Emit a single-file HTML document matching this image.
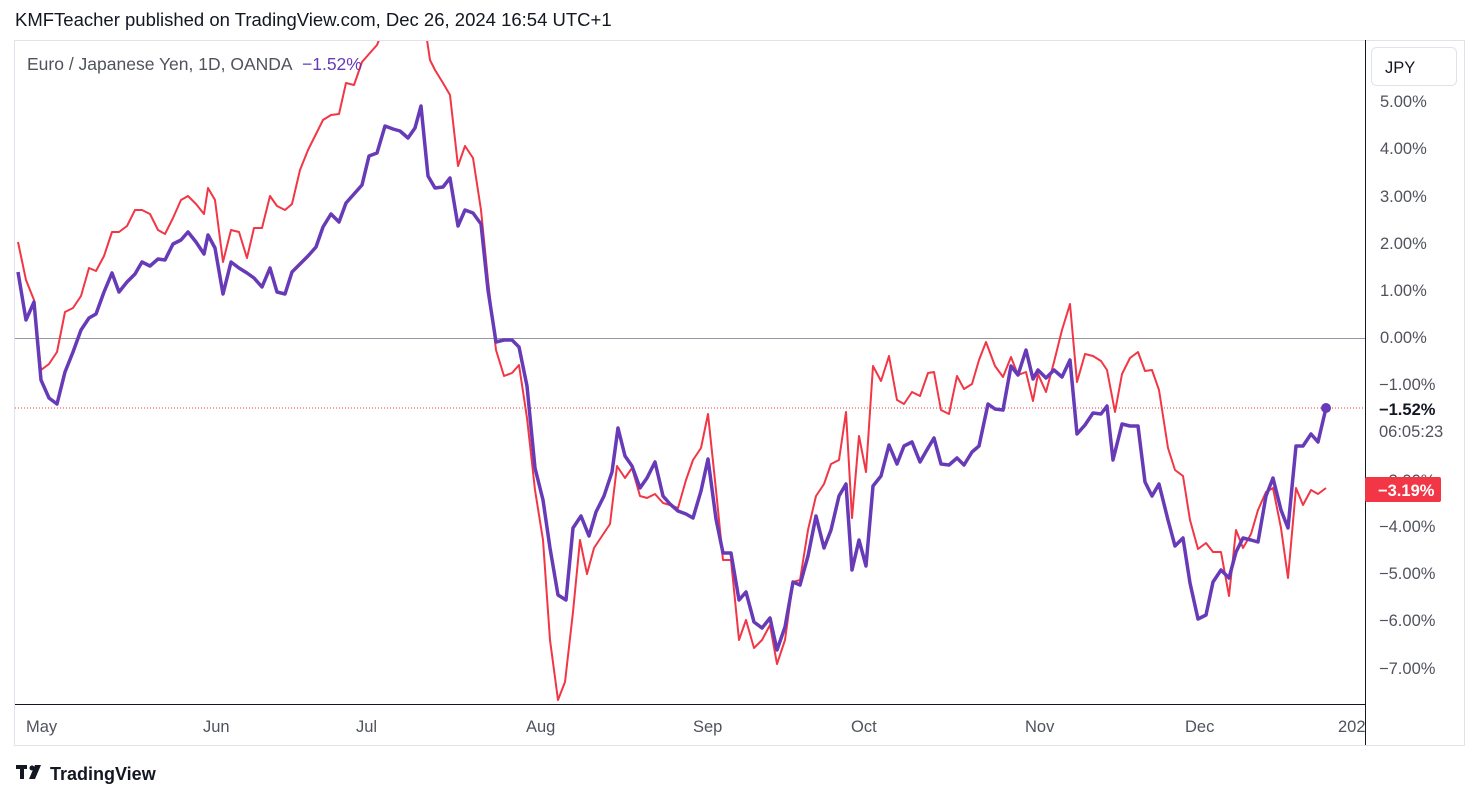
<!DOCTYPE html>
<html><head><meta charset="utf-8"><style>
body{margin:0;width:1479px;height:799px;background:#fff;font-family:"Liberation Sans",sans-serif;overflow:hidden;position:relative}
.t{position:absolute;white-space:nowrap}
</style></head><body>
<div class="t" style="left:15px;top:9px;font-size:18.5px;color:#131722">KMFTeacher published on TradingView.com, Dec 26, 2024 16:54 UTC+1</div>
<svg width="1479" height="799" style="position:absolute;left:0;top:0">
<defs><clipPath id="c"><rect x="15" y="41" width="1350" height="663"/></clipPath></defs>
<rect x="14.5" y="40.5" width="1450" height="705" fill="none" stroke="#e0e3eb"/>
<line x1="1365.5" y1="40" x2="1365.5" y2="745" stroke="#131722" stroke-width="1"/>
<line x1="15" y1="704.5" x2="1365" y2="704.5" stroke="#131722" stroke-width="1"/>
<line x1="15" y1="338.5" x2="1365" y2="338.5" stroke="#9598a1" stroke-width="1"/>
<line x1="15" y1="408" x2="1365" y2="408" stroke="#f23645" stroke-width="1" stroke-dasharray="1,2"/>
<g clip-path="url(#c)" fill="none" stroke-linejoin="round">
<polyline stroke="#f23645" stroke-width="2" points="18,242 26,280 34,300 41,370 49,364 57,352 65,312 73,308 81,296 89,268 96,271 104,256 112,232 119,232 127,226 135,210 142,210 150,214 158,230 165,234 173,218 181,200 188,196 196,204 204,214 208,188 215,200 223,262 231,230 239,232 247,258 254,228 262,228 270,196 277,206 285,210 292,204 300,170 308,150 316,134 323,120 331,115 339,114 346,83 354,85 362,62 369,54 377,45 385,25 420,20 427,40 430,60 435,70 443,83 450,95 458,166 465,146 473,158 481,210 488,280 496,350 504,376 512,373 519,365 527,418 535,490 543,540 550,640 558,700 565,682 573,612 580,540 587,574 594,548 602,536 610,524 617,466 625,478 632,468 640,496 647,498 655,494 663,503 670,505 678,508 686,480 693,460 701,448 708,414 716,490 723,560 731,560 739,640 746,620 754,648 762,640 770,625 777,664 785,640 793,582 800,580 808,530 816,496 824,484 831,464 839,460 846,412 852,518 859,436 866,472 873,366 881,381 889,356 897,400 904,404 912,392 920,396 928,373 934,372 941,410 949,414 957,376 964,389 972,384 979,360 986,342 995,366 1003,377 1011,357 1018,375 1026,372 1033,401 1038,374 1046,392 1054,362 1062,330 1070,304 1077,382 1085,354 1093,356 1101,361 1107,370 1115,412 1122,374 1130,358 1138,352 1145,371 1152,370 1159,390 1168,448 1175,470 1183,476 1190,520 1198,549 1206,543 1213,552 1221,552 1229,596 1236,530 1243,548 1251,534 1258,510 1266,492 1273,488 1281,528 1288,578 1296,488 1303,505 1311,490 1318,494 1326,488"/>
<polyline stroke="#673ab7" stroke-width="3.5" points="18,272 26,320 34,302 41,380 49,398 57,404 65,372 73,352 81,330 89,318 96,314 104,292 112,273 119,292 127,282 135,274 142,262 150,266 158,259 165,260 173,244 181,240 188,232 196,242 204,254 208,235 215,248 223,294 231,262 239,268 247,273 254,278 262,287 270,268 277,292 285,294 292,272 300,264 308,256 316,247 323,227 331,214 339,222 346,203 354,194 362,185 369,156 377,153 385,126 393,129 400,131 408,138 415,128 421,106 428,176 435,188 443,187 450,178 458,226 465,210 473,213 481,224 488,290 496,342 504,340 512,340 519,347 527,386 535,468 543,500 550,548 558,595 566,600 573,528 581,516 589,536 596,512 604,496 612,472 618,428 625,456 632,466 640,488 647,478 655,462 663,496 670,504 678,511 686,514 693,518 701,491 708,459 716,519 723,553 731,553 739,600 746,592 754,622 762,628 770,618 777,650 785,627 793,582 800,585 808,556 816,516 824,548 831,530 839,496 846,484 852,570 859,540 866,566 873,486 881,476 889,445 897,464 904,446 912,442 920,462 928,448 934,438 941,464 949,465 957,458 964,465 972,452 979,446 988,404 995,409 1003,410 1011,366 1018,375 1026,350 1033,379 1038,370 1046,378 1054,370 1062,377 1070,360 1077,434 1085,425 1093,413 1101,414 1107,406 1113,460 1122,424 1130,426 1138,426 1145,482 1152,496 1159,484 1168,520 1175,546 1183,538 1190,583 1198,619 1206,615 1213,582 1221,570 1229,578 1236,552 1243,538 1251,540 1258,542 1266,496 1273,478 1281,510 1288,528 1296,446 1303,446 1311,434 1318,442 1326,408"/>
</g>
<circle cx="1326" cy="408" r="5" fill="#673ab7"/>
<rect x="1371.5" y="47.5" width="85" height="38" rx="5" fill="#fff" stroke="#e0e3eb"/>
<g font-size="16.5" fill="#131722" font-family="Liberation Sans, sans-serif">
<text x="1385" y="73" fill="#131722">JPY</text>
<g fill="#50535e">
<text x="1380" y="107">5.00%</text><text x="1380" y="154">4.00%</text><text x="1380" y="202">3.00%</text><text x="1380" y="249">2.00%</text><text x="1380" y="296">1.00%</text><text x="1380" y="343">0.00%</text><text x="1379" y="390">−1.00%</text><text x="1379" y="486">−3.00%</text><text x="1379" y="532">−4.00%</text><text x="1379" y="579">−5.00%</text><text x="1379" y="626">−6.00%</text><text x="1379" y="674">−7.00%</text>
<text x="1379" y="437">06:05:23</text>
<text x="26" y="732">May</text><text x="203" y="732">Jun</text><text x="356" y="732">Jul</text><text x="526" y="732">Aug</text><text x="693" y="732">Sep</text><text x="851" y="732">Oct</text><text x="1025" y="732">Nov</text><text x="1185" y="732">Dec</text><text x="1338" y="732">202</text>
</g>
<rect x="1365" y="477" width="76" height="25" rx="2" fill="#f23645"/>
<text x="1379" y="415" font-weight="bold">−1.52%</text>
<text x="1378" y="496" font-weight="bold" fill="#fff">−3.19%</text>
<text x="27" y="70" font-size="17.5" fill="#50535e">Euro / Japanese Yen, 1D, OANDA</text>
<text x="302" y="70" font-size="17.5" fill="#673ab7">−1.52%</text>
</g>
<g fill="#131722">
<rect x="16" y="765" width="11" height="4"/><rect x="20" y="765" width="4" height="14"/>
<circle cx="32" cy="768" r="2.5"/><polygon points="35,765 41,765 35,779 29,779"/>
<text x="50" y="780" font-size="18" font-family="Liberation Sans, sans-serif" font-weight="bold">TradingView</text>
</g>
</svg>
</body></html>
